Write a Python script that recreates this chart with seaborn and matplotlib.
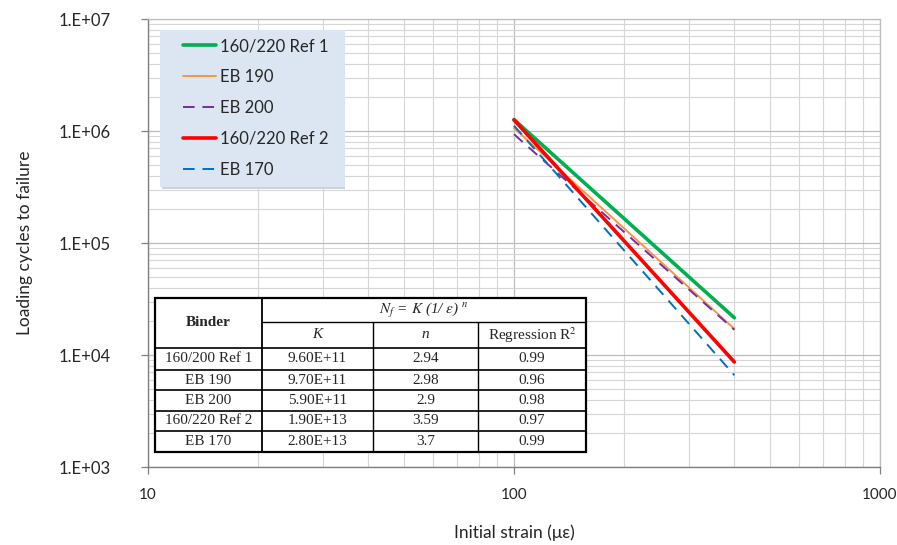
import matplotlib
matplotlib.use("Agg")
import matplotlib.pyplot as plt
import seaborn as sns
import pandas as pd
import numpy as np
from matplotlib.ticker import LogLocator, FixedLocator, FixedFormatter, NullFormatter
from matplotlib.patches import Rectangle
from matplotlib.lines import Line2D

# ---- data ----
strain = [100, 400]
series_names = ["160/220 Ref 1", "EB 190", "EB 200", "160/220 Ref 2", "EB 170"]
cycles_ref1 = [1.265e6, 2.15e4]
cycles_eb190 = [1.063e6, 1.71e4]
cycles_eb200 = [9.35e5, 1.68e4]
cycles_ref2 = [1.255e6, 8.66e3]
cycles_eb170 = [1.115e6, 6.60e3]

table_binders = ["160/200 Ref 1", "EB 190", "EB 200", "160/220 Ref 2", "EB 170"]
table_K = ["9.60E+11", "9.70E+11", "5.90E+11", "1.90E+13", "2.80E+13"]
table_n = ["2.94", "2.98", "2.9", "3.59", "3.7"]
table_r2 = ["0.99", "0.96", "0.98", "0.97", "0.99"]

y_ticks = [1e3, 1e4, 1e5, 1e6, 1e7]
y_ticklabels = ["1.E+03", "1.E+04", "1.E+05", "1.E+06", "1.E+07"]
x_ticks = [10, 100, 1000]
x_ticklabels = ["10", "100", "1000"]

# ---- styles ----
styles = {
    "160/220 Ref 1": dict(color="#00b050", lw=2.6, ls="-"),
    "EB 190": dict(color="#f79646", lw=1.4, ls="-"),
    "EB 200": dict(color="#7030a0", lw=1.4, ls=(0, (6, 4))),
    "160/220 Ref 2": dict(color="#ff0000", lw=2.6, ls="-"),
    "EB 170": dict(color="#0070c0", lw=1.4, ls=(0, (6, 4))),
}

all_cycles = [cycles_ref1, cycles_eb190, cycles_eb200, cycles_ref2, cycles_eb170]
df = pd.DataFrame({
    "strain": strain * len(series_names),
    "cycles": [v for c in all_cycles for v in c],
    "series": [s for s in series_names for _ in strain],
})

sns.set_style("white")
plt.rcParams["font.family"] = ["Lato", "DejaVu Sans"]
plt.rcParams["mathtext.fontset"] = "stix"

fig = plt.figure(figsize=(8.97, 5.45), dpi=100)
W, H = 897, 545
ax = fig.add_axes([148 / W, 1 - 467 / H, (880 - 148) / W, (467 - 19) / H])

for name in series_names:
    st = styles[name]
    sub = df[df["series"] == name]
    sns.lineplot(data=sub, x="strain", y="cycles", ax=ax, color=st["color"],
                 linewidth=st["lw"], linestyle=st["ls"], label=name,
                 estimator=None, sort=False)

ax.set_xscale("log")
ax.set_yscale("log")
ax.set_xlim(10, 1000)
ax.set_ylim(1e3, 1e7)

ax.yaxis.set_major_locator(FixedLocator(y_ticks))
ax.yaxis.set_major_formatter(FixedFormatter(y_ticklabels))
ax.yaxis.set_minor_locator(LogLocator(base=10, subs=np.arange(2, 10)))
ax.yaxis.set_minor_formatter(NullFormatter())
ax.xaxis.set_major_locator(FixedLocator(x_ticks))
ax.xaxis.set_major_formatter(FixedFormatter(x_ticklabels))
ax.xaxis.set_minor_locator(LogLocator(base=10, subs=np.arange(2, 10)))
ax.xaxis.set_minor_formatter(NullFormatter())

ax.grid(True, which="major", color="#bdbdbd", lw=0.9)
ax.grid(True, which="minor", color="#d6d6d6", lw=0.8)
ax.set_axisbelow(True)

for side in ["top", "right"]:
    ax.spines[side].set_color("#bdbdbd")
    ax.spines[side].set_linewidth(0.9)
for side in ["left", "bottom"]:
    ax.spines[side].set_color("#808080")
    ax.spines[side].set_linewidth(1.0)

ax.tick_params(axis="both", which="major", length=5, width=0.9, color="#808080",
               direction="out", bottom=True, left=True)
ax.tick_params(axis="y", pad=22, labelsize=12)
ax.tick_params(axis="x", pad=10, labelsize=11)
ax.tick_params(axis="both", which="minor", length=0)

ax.set_xlabel("Initial strain (\u03bc\u03b5)", fontsize=12.5, labelpad=16)
ax.set_ylabel("Loading cycles to failure", fontsize=12.5, labelpad=18)

def fx(px):
    return px / W

def fy(py):
    return 1 - py / H

# legend background box (pixel-based figure coordinates), drawn inside the axes
ax.add_patch(Rectangle((fx(162), fy(189)), fx(345) - fx(162), fy(31) - fy(189),
                       facecolor="#c9d3de", edgecolor="none", zorder=8,
                       transform=fig.transFigure, clip_on=False))
ax.add_patch(Rectangle((fx(160), fy(187)), fx(345) - fx(160), fy(30) - fy(187),
                       facecolor="#dce6f2", edgecolor="none", zorder=9,
                       transform=fig.transFigure, clip_on=False))

leg = ax.legend(loc="upper left", bbox_to_anchor=(fx(178), fy(33)),
                bbox_transform=fig.transFigure,
                borderaxespad=0, frameon=False,
                fontsize=12, labelspacing=0.9, handlelength=2.0, handletextpad=0.2,
                borderpad=0.3)
leg.set_zorder(10)

# ---- table ----
col_x = [155, 262, 373, 478, 586]
row_y = [298, 322, 348, 370, 390, 411, 431, 452]

fig.add_artist(Rectangle((fx(col_x[0]), fy(row_y[-1])), fx(col_x[-1]) - fx(col_x[0]),
                         fy(row_y[0]) - fy(row_y[-1]), facecolor="white",
                         edgecolor="black", lw=1.6, zorder=20))

def hline(y, x0, x1, lw=1.0):
    fig.add_artist(Line2D([fx(x0), fx(x1)], [fy(y), fy(y)], color="black", lw=lw, zorder=21))

def vline(x, y0, y1, lw=1.0):
    fig.add_artist(Line2D([fx(x), fx(x)], [fy(y0), fy(y1)], color="black", lw=lw, zorder=21))

hline(row_y[1], col_x[1], col_x[-1])
for y in row_y[2:-1]:
    hline(y, col_x[0], col_x[-1], lw=1.2)
vline(col_x[1], row_y[0], row_y[-1], lw=1.3)
vline(col_x[2], row_y[1], row_y[-1])
vline(col_x[3], row_y[1], row_y[-1])

serif = ["Liberation Serif", "DejaVu Serif"]
tfs = 11

def cell_text(text, c0, c1, r0, r1, **kw):
    fig.text((fx(col_x[c0]) + fx(col_x[c1])) / 2, (fy(row_y[r0]) + fy(row_y[r1])) / 2,
             text, ha="center", va="center", family=serif, fontsize=tfs, zorder=22, **kw)

cell_text("Binder", 0, 1, 0, 2, fontweight="bold")
cell_text(r"$N_f$ = $K$ (1/ $\varepsilon$) $^n$", 1, 4, 0, 1, fontstyle="italic")
cell_text("K", 1, 2, 1, 2, fontstyle="italic")
cell_text("n", 2, 3, 1, 2, fontstyle="italic")
cell_text(r"Regression R$^2$", 3, 4, 1, 2)

for i in range(len(table_binders)):
    r = i + 2
    cell_text(table_binders[i], 0, 1, r, r + 1)
    cell_text(table_K[i], 1, 2, r, r + 1)
    cell_text(table_n[i], 2, 3, r, r + 1)
    cell_text(table_r2[i], 3, 4, r, r + 1)

fig.savefig("out.png", dpi=100)
